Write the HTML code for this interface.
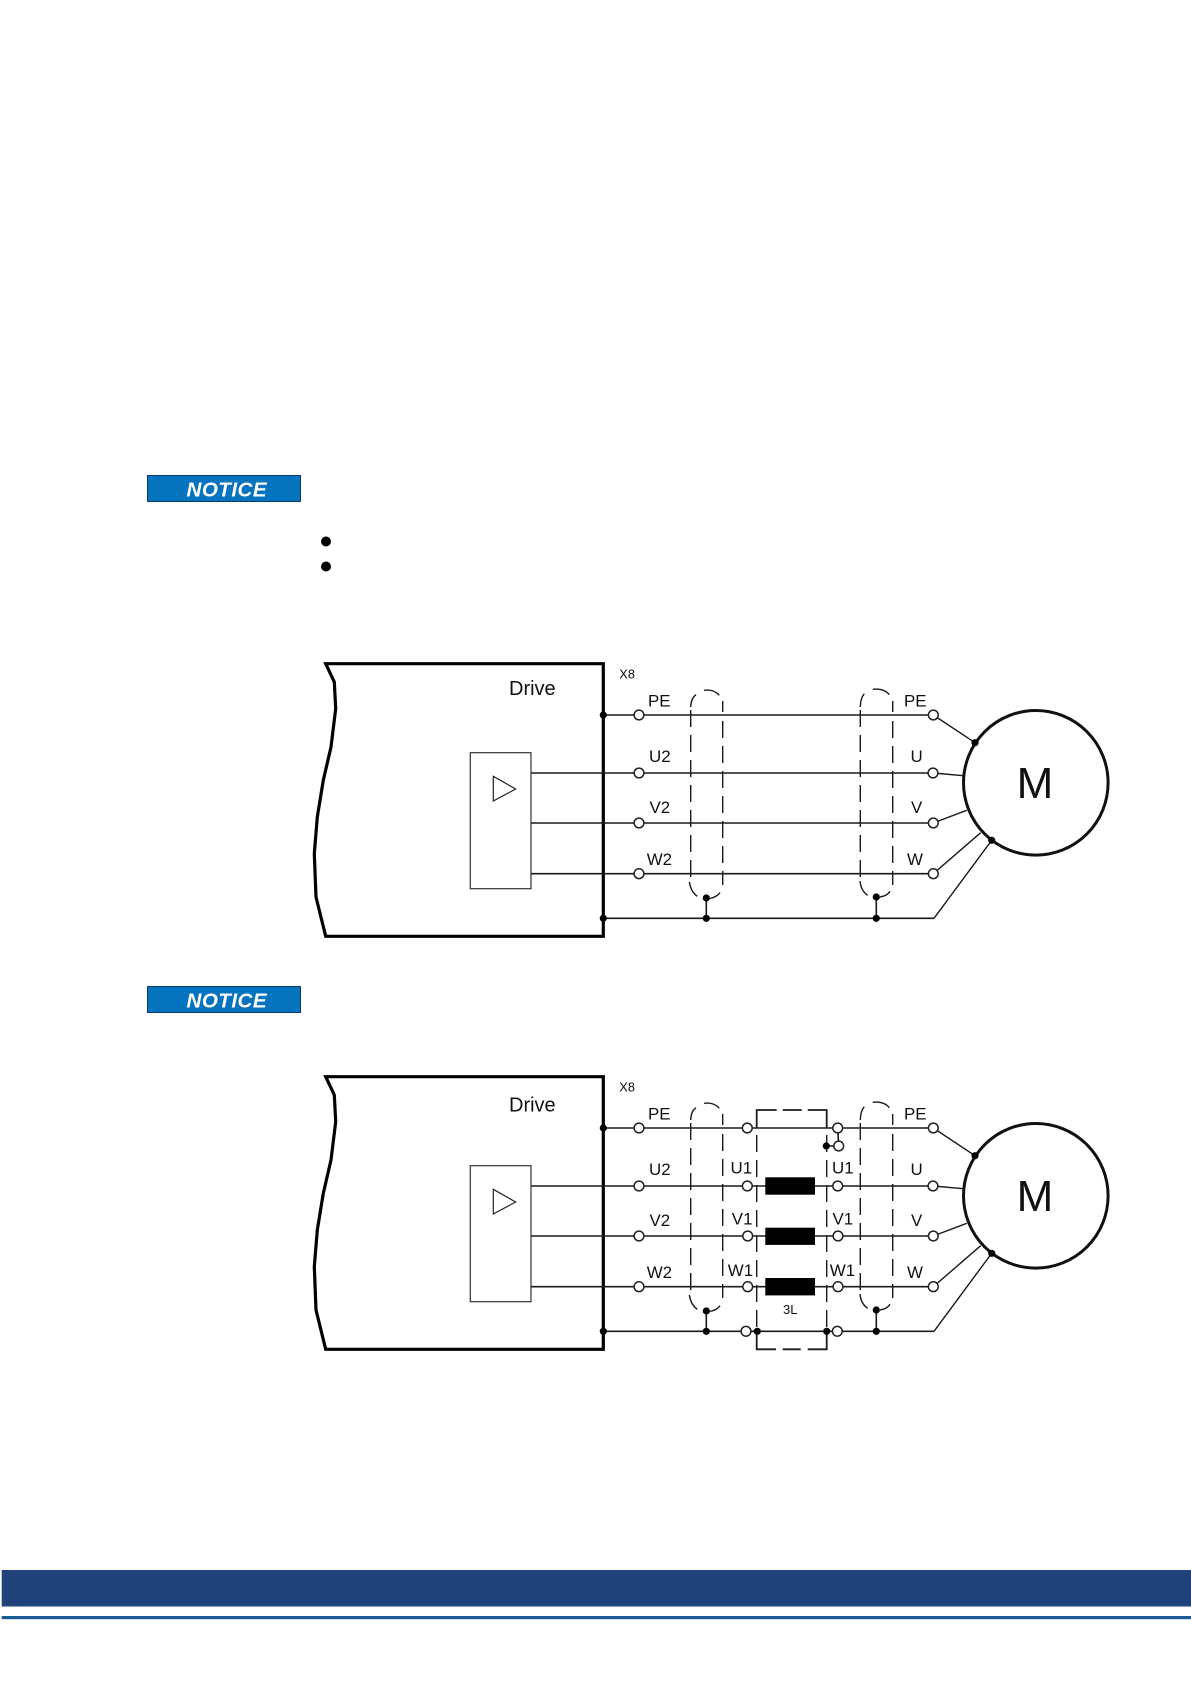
<!DOCTYPE html>
<html>
<head>
<meta charset="utf-8">
<style>
html,body{margin:0;padding:0;background:#fff;width:1191px;height:1684px;overflow:hidden}
svg{display:block}
text{font-family:"Liberation Sans",sans-serif;fill:#111}
.w{stroke:#1a1a1a;stroke-width:1.6;fill:none}
.s{stroke:#1a1a1a;stroke-width:1.4;fill:none}
.d{stroke:#1a1a1a;stroke-width:1.4;fill:none;stroke-dasharray:17 8}
.b{stroke:#1a1a1a;stroke-width:1.8;fill:none}
.t{fill:#fff;stroke:#222;stroke-width:1.5}
.l{font-size:16.9px}
.n{font-size:20.6px;font-weight:bold;font-style:italic;letter-spacing:.45px;fill:#fff}
</style>
</head>
<body>
<svg width="1191" height="1684" viewBox="0 0 1191 1684" xmlns="http://www.w3.org/2000/svg">
<rect width="1191" height="1684" fill="#fff"/>

<!-- Notices -->
<rect x="147.5" y="475.5" width="153" height="26" fill="#0673bf" stroke="#0a3d6b" stroke-width="1"/>
<text class="n" x="186.5" y="496.7" style="fill:#fff">NOTICE</text>
<rect x="147.5" y="986.5" width="153" height="26" fill="#0673bf" stroke="#0a3d6b" stroke-width="1"/>
<text class="n" x="186.5" y="1007.3" style="fill:#fff">NOTICE</text>

<!-- Bullets -->
<circle cx="326" cy="541.5" r="5" fill="#000"/>
<circle cx="326" cy="566.5" r="5" fill="#000"/>

<!-- Diagram 1 -->
<g transform="translate(0,-413)">
  <path d="M325.7,1076.7 L334.3,1095 L335.7,1121.7 L331,1160 L323.3,1193.3 L317.3,1230 L314.3,1266.7 L316,1310 L325.7,1349.3 H603.3 V1076.7 Z" fill="#fff" stroke="#000" stroke-width="3.2"/>
  <rect x="470.3" y="1165.7" width="60.7" height="136" fill="#fff" stroke="#333" stroke-width="1.2"/>
  <path d="M493.3,1189.3 L515.7,1202 L493.3,1214 Z" fill="none" stroke="#222" stroke-width="1.2"/>
  <path class="w" d="M603,1128 H933 M531,1186 H933 M531,1236 H933 M531,1286.7 H933 M603,1331.3 H934"/>
  <path class="s" d="M934,1331.3 L991.7,1253.3 M933.3,1128 L975,1155.7 M933.3,1186 L963.3,1188.7 M933.3,1236 L966.7,1223.3 M933.3,1286.7 L980.7,1245.7"/>
  <path class="w" d="M706.3,1311 V1331.3 M876.3,1310 V1331.3"/>
  <!-- shields -->
  <path class="s" d="M690.7,1120 Q691,1111 696,1107.7 M704,1103.3 Q714,1102 719.3,1108.3 M722.7,1114 V1125 M689.3,1295 Q691,1305 697.3,1309.3 M708,1311.7 Q716,1311 720,1305.7"/>
  <path class="d" d="M722.7,1134 V1298"/>
  <path class="d" d="M690.7,1123 V1298"/>
  <path class="s" d="M860.3,1120 Q860.5,1111 864.3,1106.7 M872.7,1102.3 Q884,1101 889.3,1107.7 M892.7,1114 V1125 M860,1294 Q861,1304 867.7,1308.3 M880,1310 Q887,1309 890,1304.3"/>
  <path class="d" d="M892.7,1134 V1298"/>
  <path class="d" d="M860.3,1123 V1296"/>
  <circle class="t" cx="639" cy="1128" r="4.9"/><circle class="t" cx="639" cy="1186" r="4.9"/><circle class="t" cx="639" cy="1236" r="4.9"/><circle class="t" cx="639" cy="1286.7" r="4.9"/>
  <circle class="t" cx="933.3" cy="1128" r="4.9"/><circle class="t" cx="933" cy="1186" r="4.9"/><circle class="t" cx="933.3" cy="1236" r="4.9"/><circle class="t" cx="933.3" cy="1286.7" r="4.9"/>
  <circle cx="1035.8" cy="1195.8" r="72.3" fill="#fff" stroke="#111" stroke-width="3"/>
  <g fill="#000">
    <circle cx="603.3" cy="1128" r="3.6"/><circle cx="603.3" cy="1331.3" r="3.6"/>
    <circle cx="706.3" cy="1311" r="3.6"/><circle cx="706.3" cy="1331.3" r="3.6"/>
    <circle cx="876.3" cy="1310" r="3.6"/><circle cx="876.3" cy="1331.3" r="3.6"/>
    <circle cx="975" cy="1155.7" r="3.6"/><circle cx="991.7" cy="1253.3" r="3.6"/>
  </g>
  <text x="1016.6" y="1211.2" font-size="44">M</text>
  <text x="619.3" y="1091.7" font-size="12.8">X8</text>
  <text x="509" y="1108" font-size="20">Drive</text>
  <text class="l" x="648" y="1119.3">PE</text><text class="l" x="649" y="1175">U2</text><text class="l" x="649.5" y="1226">V2</text><text class="l" x="646.7" y="1278">W2</text>
  <text class="l" x="904" y="1119.3">PE</text><text class="l" x="910.5" y="1175">U</text><text class="l" x="911" y="1226">V</text><text class="l" x="907" y="1278">W</text>
</g>

<!-- Diagram 2 -->
<g>
  <path d="M325.7,1076.7 L334.3,1095 L335.7,1121.7 L331,1160 L323.3,1193.3 L317.3,1230 L314.3,1266.7 L316,1310 L325.7,1349.3 H603.3 V1076.7 Z" fill="#fff" stroke="#000" stroke-width="3.2"/>
  <rect x="470.3" y="1165.7" width="60.7" height="136" fill="#fff" stroke="#333" stroke-width="1.2"/>
  <path d="M493.3,1189.3 L515.7,1202 L493.3,1214 Z" fill="none" stroke="#222" stroke-width="1.2"/>
  <path class="w" d="M603,1128 H933 M531,1186 H933 M531,1236 H933 M531,1286.7 H933 M603,1331.3 H934"/>
  <path class="s" d="M934,1331.3 L991.7,1253.3 M933.3,1128 L975,1155.7 M933.3,1186 L963.3,1188.7 M933.3,1236 L966.7,1223.3 M933.3,1286.7 L980.7,1245.7"/>
  <path class="w" d="M706.3,1311 V1331.3 M876.3,1310 V1331.3 M837.7,1128 L838.7,1146 M826.7,1146 H838.7"/>
  <!-- shields -->
  <path class="s" d="M690.7,1120 Q691,1111 696,1107.7 M704,1103.3 Q714,1102 719.3,1108.3 M722.7,1114 V1125 M689.3,1295 Q691,1305 697.3,1309.3 M708,1311.7 Q716,1311 720,1305.7"/>
  <path class="d" d="M722.7,1134 V1298"/>
  <path class="d" d="M690.7,1123 V1298"/>
  <path class="s" d="M860.3,1120 Q860.5,1111 864.3,1106.7 M872.7,1102.3 Q884,1101 889.3,1107.7 M892.7,1114 V1125 M860,1294 Q861,1304 867.7,1308.3 M880,1310 Q887,1309 890,1304.3"/>
  <path class="d" d="M892.7,1134 V1298"/>
  <path class="d" d="M860.3,1123 V1296"/>
  <!-- filter box -->
  <path class="b" d="M756.7,1128 V1110 H776.7 M782.7,1110 H801.7 M807.7,1110 H826.7 V1128 M756.7,1331.3 V1349.3 H776 M782.7,1349.3 H800.7 M807.7,1349.3 H826.7 V1331.3"/>
  <path class="d" d="M756.7,1135 V1331 M826.7,1135 V1331"/>
  <rect x="765.3" y="1177.3" width="49.7" height="17.4" fill="#000"/>
  <rect x="765.3" y="1227.7" width="49.7" height="17.2" fill="#000"/>
  <rect x="765.3" y="1278" width="49.7" height="17.4" fill="#000"/>
  <circle class="t" cx="639" cy="1128" r="4.9"/><circle class="t" cx="639" cy="1186" r="4.9"/><circle class="t" cx="639" cy="1236" r="4.9"/><circle class="t" cx="639" cy="1286.7" r="4.9"/>
  <circle class="t" cx="933.3" cy="1128" r="4.9"/><circle class="t" cx="933" cy="1186" r="4.9"/><circle class="t" cx="933.3" cy="1236" r="4.9"/><circle class="t" cx="933.3" cy="1286.7" r="4.9"/>
  <circle class="t" cx="747.3" cy="1128" r="4.9"/><circle class="t" cx="747.3" cy="1186" r="4.9"/><circle class="t" cx="747.7" cy="1236" r="4.9"/><circle class="t" cx="747.7" cy="1286.7" r="4.9"/><circle class="t" cx="746" cy="1331.3" r="4.9"/>
  <circle class="t" cx="837.7" cy="1128" r="4.9"/><circle class="t" cx="837.7" cy="1186" r="4.9"/><circle class="t" cx="838" cy="1236" r="4.9"/><circle class="t" cx="838" cy="1286.7" r="4.9"/><circle class="t" cx="837.3" cy="1331.3" r="4.9"/>
  <circle class="t" cx="838.7" cy="1146" r="4.9"/>
  <circle cx="1035.8" cy="1195.8" r="72.3" fill="#fff" stroke="#111" stroke-width="3"/>
  <g fill="#000">
    <circle cx="603.3" cy="1128" r="3.6"/><circle cx="603.3" cy="1331.3" r="3.6"/>
    <circle cx="706.3" cy="1311" r="3.6"/><circle cx="706.3" cy="1331.3" r="3.6"/>
    <circle cx="876.3" cy="1310" r="3.6"/><circle cx="876.3" cy="1331.3" r="3.6"/>
    <circle cx="975" cy="1155.7" r="3.6"/><circle cx="991.7" cy="1253.3" r="3.6"/>
    <circle cx="826.3" cy="1146" r="3.6"/><circle cx="757.3" cy="1331.3" r="3.6"/><circle cx="826.7" cy="1331.3" r="3.6"/>
  </g>
  <text x="1016.6" y="1211.2" font-size="44">M</text>
  <text x="619.3" y="1091.7" font-size="12.8">X8</text>
  <text x="509" y="1111.3" font-size="20">Drive</text>
  <text x="783" y="1314" font-size="13">3L</text>
  <text class="l" x="648" y="1119.3">PE</text><text class="l" x="649" y="1175">U2</text><text class="l" x="649.5" y="1226">V2</text><text class="l" x="646.7" y="1278">W2</text>
  <text class="l" x="904" y="1119.3">PE</text><text class="l" x="910.5" y="1175">U</text><text class="l" x="911" y="1226">V</text><text class="l" x="907" y="1278">W</text>
  <text class="l" x="730.5" y="1173.3">U1</text><text class="l" x="731.8" y="1224.5">V1</text><text class="l" x="727.8" y="1276">W1</text>
  <text class="l" x="832" y="1173.3">U1</text><text class="l" x="832.5" y="1224.5">V1</text><text class="l" x="829.8" y="1276">W1</text>
</g>

<!-- Footer -->
<rect x="1.7" y="1570" width="1189.3" height="36.5" fill="#1e4279"/>
<rect x="1.7" y="1616" width="1189.3" height="3.2" fill="#1a5a96"/>
</svg>
</body>
</html>
